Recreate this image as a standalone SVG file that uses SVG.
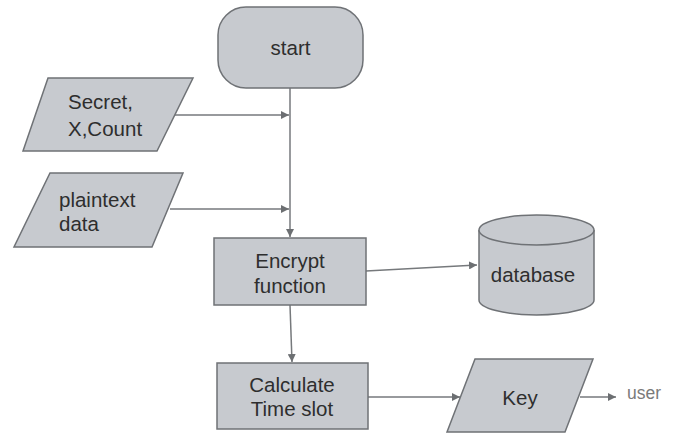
<svg xmlns="http://www.w3.org/2000/svg" width="678" height="433" viewBox="0 0 678 433">
  <style>
    .shape { fill: #c7cacf; stroke: #6f7276; stroke-width: 1.5; }
    .label { font-family: "Liberation Sans", Arial, sans-serif; font-size: 20.5px; fill: #2e2e2e; }
    .mid { text-anchor: middle; }
    .edge { fill: none; stroke: #76797c; stroke-width: 1.5; marker-end: url(#arrow); }
    .note { font-family: "Liberation Sans", Arial, sans-serif; font-size: 17.5px; fill: #7a7a7a; }
  </style>
  <defs>
    <marker id="arrow" viewBox="0 0 10 10" refX="10" refY="5" markerWidth="8" markerHeight="8" markerUnits="userSpaceOnUse" orient="auto">
      <path d="M0,0 L10,5 L0,10 z" fill="#6c6f72"/>
    </marker>
  </defs>
  <rect width="678" height="433" fill="#ffffff"/>

  <g id="connectors">
    <line class="edge" x1="290" y1="88" x2="290" y2="237"/>
    <line class="edge" x1="175" y1="115" x2="289" y2="115"/>
    <line class="edge" x1="170" y1="209" x2="289" y2="209"/>
    <line class="edge" x1="366" y1="271" x2="477" y2="265"/>
    <line class="edge" x1="290" y1="305" x2="292" y2="362"/>
    <line class="edge" x1="368" y1="397" x2="460" y2="397"/>
    <line class="edge" x1="580" y1="397" x2="616" y2="397"/>
  </g>

  <g id="start">
    <rect class="shape" x="218" y="7" width="145" height="81" rx="28" ry="28"/>
    <text class="label mid" x="290.5" y="55">start</text>
  </g>

  <g id="secret">
    <polygon class="shape" points="48,78 193,78 157,151 23,151"/>
    <text class="label" x="68" y="109">Secret,</text>
    <text class="label" x="68" y="136">X,Count</text>
  </g>

  <g id="plaintext">
    <polygon class="shape" points="50,173 183,173 152,247 14,247"/>
    <text class="label" x="59" y="207">plaintext</text>
    <text class="label" x="59" y="231">data</text>
  </g>

  <g id="encrypt">
    <rect class="shape" x="214" y="238" width="152" height="67"/>
    <text class="label mid" x="290" y="268">Encrypt</text>
    <text class="label mid" x="290" y="293">function</text>
  </g>

  <g id="database">
    <path class="shape" d="M479,230 L479,300 A57.5,15 0 0 0 594,300 L594,230 A57.5,15 0 0 0 479,230 Z"/>
    <path class="shape" d="M479,230 A57.5,15 0 0 0 594,230" fill="none"/>
    <text class="label mid" x="533" y="282">database</text>
  </g>

  <g id="calculate">
    <rect class="shape" x="217" y="363" width="151" height="66"/>
    <text class="label mid" x="292" y="392">Calculate</text>
    <text class="label mid" x="292" y="416">Time slot</text>
  </g>

  <g id="key">
    <polygon class="shape" points="475,359 593,359 565,432 447,432"/>
    <text class="label mid" x="520" y="405">Key</text>
  </g>

  <g id="user">
    <text class="note" x="627" y="399">user</text>
  </g>
</svg>
